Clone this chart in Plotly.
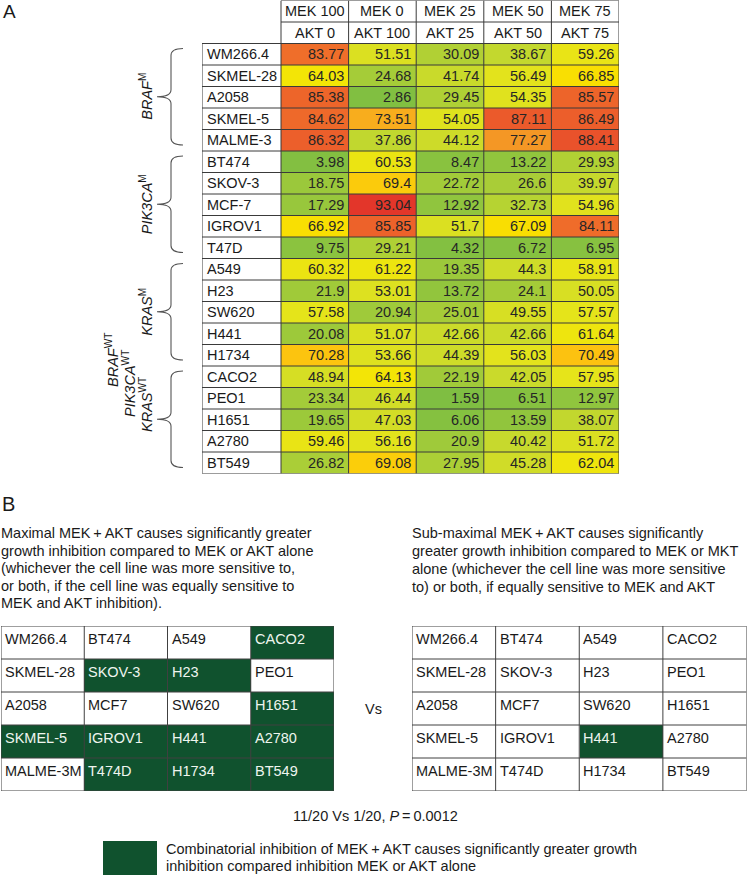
import plotly.graph_objects as go

W, H = 747, 875
FONT = "Liberation Sans, Arial, Helvetica, sans-serif"
GREEN = "#10522e"
LINE = "#3a3a3a"
FS = 14.5

# ---------------- Panel A data ----------------
cell_lines = ["WM266.4", "SKMEL-28", "A2058", "SKMEL-5", "MALME-3",
              "BT474", "SKOV-3", "MCF-7", "IGROV1", "T47D",
              "A549", "H23", "SW620", "H441", "H1734",
              "CACO2", "PEO1", "H1651", "A2780", "BT549"]
mek_labels = ["MEK 100", "MEK 0", "MEK 25", "MEK 50", "MEK 75"]
akt_labels = ["AKT 0", "AKT 100", "AKT 25", "AKT 50", "AKT 75"]
mek100_akt0 = [83.77, 64.03, 85.38, 84.62, 86.32, 3.98, 18.75, 17.29, 66.92, 9.75,
               60.32, 21.9, 57.58, 20.08, 70.28, 48.94, 23.34, 19.65, 59.46, 26.82]
mek0_akt100 = [51.51, 24.68, 2.86, 73.51, 37.86, 60.53, 69.4, 93.04, 85.85, 29.21,
               61.22, 53.01, 20.94, 51.07, 53.66, 64.13, 46.44, 47.03, 56.16, 69.08]
mek25_akt25 = [30.09, 41.74, 29.45, 54.05, 44.12, 8.47, 22.72, 12.92, 51.7, 4.32,
               19.35, 13.72, 25.01, 42.66, 44.39, 22.19, 1.59, 6.06, 20.9, 27.95]
mek50_akt50 = [38.67, 56.49, 54.35, 87.11, 77.27, 13.22, 26.6, 32.73, 67.09, 6.72,
               44.3, 24.1, 49.55, 42.66, 56.03, 42.05, 6.51, 13.59, 40.42, 45.28]
mek75_akt75 = [59.26, 66.85, 85.57, 86.49, 88.41, 29.93, 39.97, 54.96, 84.11, 6.95,
               58.91, 50.05, 57.57, 61.64, 70.49, 57.95, 12.97, 38.07, 51.72, 62.04]
mutation_groups = [("<i>BRAF</i><sup>M</sup>", 0, 4),
                   ("<i>PIK3CA</i><sup>M</sup>", 5, 9),
                   ("<i>KRAS</i><sup>M</sup>", 10, 14)]
wt_labels = ["<i>BRAF</i><sup>WT</sup>", "<i>PIK3CA</i><sup>WT</sup>", "<i>KRAS</i><sup>WT</sup>"]
wt_rows = (15, 19)

# ---------------- Panel B data ----------------
grid_columns = [["WM266.4", "SKMEL-28", "A2058", "SKMEL-5", "MALME-3M"],
                ["BT474", "SKOV-3", "MCF7", "IGROV1", "T474D"],
                ["A549", "H23", "SW620", "H441", "H1734"],
                ["CACO2", "PEO1", "H1651", "A2780", "BT549"]]
maximal_sig = ["CACO2", "SKOV-3", "H23", "H1651", "SKMEL-5", "IGROV1",
               "H441", "A2780", "T474D", "H1734", "BT549"]
submaximal_sig = ["H441"]

left_text = ["Maximal MEK\u2009+\u2009AKT causes significantly greater",
             "growth inhibition compared to MEK or AKT alone",
             "(whichever the cell line was more sensitive to,",
             "or both, if the cell line was equally sensitive to",
             "MEK and AKT inhibition)."]
right_text = ["Sub-maximal MEK\u2009+\u2009AKT causes significantly",
              "greater growth inhibition compared to MEK or MKT",
              "alone (whichever the cell line was more sensitive",
              "to) or both, if equally sensitive to MEK and AKT"]
stat_text = "11/20 Vs 1/20, <i>P</i>\u2009=\u20090.0012"
legend_text = ["Combinatorial inhibition of MEK\u2009+\u2009AKT causes significantly greater growth",
               "inhibition compared inhibition MEK or AKT alone"]


def px(x):
    return x / W


def py(y):
    return 1 - y / H


columns = [mek100_akt0, mek0_akt100, mek25_akt25, mek50_akt50, mek75_akt75]
z = [[columns[j][i] for j in range(len(columns))] for i in range(len(cell_lines))]

color_stops = [(0, "#7dbd42"), (10, "#8bc33f"), (25, "#a6cc38"), (40, "#c6d92d"),
               (50, "#d8df23"), (58, "#e6e41a"), (64, "#f3e506"), (67, "#f9df02"),
               (70, "#fcc60e"), (74, "#f8a91f"), (78, "#f39326"), (84, "#ef6d2a"),
               (88, "#ea552b"), (93, "#e3362a"), (100, "#df2a2a")]
colorscale = [[v / 100, c] for v, c in color_stops]

fig = go.Figure()

nrow = len(cell_lines)
ncol = len(mek_labels)
# pixel geometry of panel A
A_left, A_data_left, A_right = 202, 281, 619
A_top, A_bottom = 0.5, 473.5
colw = (A_right - A_data_left) / ncol
lab_w = (A_data_left - A_left) / colw
rowh = (A_bottom - A_top) / (nrow + 2)
x_lab = -0.5 - lab_w

fig.add_trace(go.Heatmap(z=z, x=list(range(ncol)), y=list(range(nrow)),
                         colorscale=colorscale, zmin=0, zmax=100, showscale=False,
                         hoverinfo="skip", xaxis="x", yaxis="y"))


def grid_z(sig):
    return [[1 if grid_columns[c][r] in sig else 0 for c in range(len(grid_columns))]
            for r in range(len(grid_columns[0]))]


gscale = [[0, "white"], [1, GREEN]]
fig.add_trace(go.Heatmap(z=grid_z(maximal_sig), colorscale=gscale, zmin=0, zmax=1,
                         showscale=False, hoverinfo="skip", xaxis="x2", yaxis="y2"))
fig.add_trace(go.Heatmap(z=grid_z(submaximal_sig), colorscale=gscale, zmin=0, zmax=1,
                         showscale=False, hoverinfo="skip", xaxis="x3", yaxis="y3"))

shapes = []
ann = []


def seg(x0, y0, x1, y1, ax="", color=LINE, w=1):
    shapes.append(dict(type="line", xref="x" + ax, yref="y" + ax, x0=x0, y0=y0, x1=x1, y1=y1,
                       line=dict(color=color, width=w), layer="above"))


for k in range(3):
    seg(-0.5, -2.5 + k, ncol - 0.5, -2.5 + k)
for k in range(1, nrow + 1):
    seg(x_lab, -0.5 + k, ncol - 0.5, -0.5 + k)
seg(x_lab, -0.5, ncol - 0.5, -0.5)
seg(x_lab, -0.5, x_lab, nrow - 0.5)
for k in range(ncol + 1):
    seg(-0.5 + k, -2.5, -0.5 + k, nrow - 0.5)


def txt(**kw):
    size = kw.pop("size", FS)
    color = kw.pop("color", "#1a1a1a")
    d = dict(showarrow=False, font=dict(size=size, color=color, family=FONT))
    d.update(kw)
    ann.append(d)


for i in range(nrow):
    txt(xref="x", yref="y", x=x_lab, y=i, text=cell_lines[i], xanchor="left",
        yanchor="middle", xshift=3)
    for j in range(ncol):
        txt(xref="x", yref="y", x=j + 0.5, y=i, text=f"{columns[j][i]:g}",
            xanchor="right", yanchor="middle", xshift=-3, color="#262626")
for j in range(ncol):
    txt(xref="x", yref="y", x=j, y=-2, text=mek_labels[j], xanchor="center", yanchor="middle")
    txt(xref="x", yref="y", x=j, y=-1, text=akt_labels[j], xanchor="center", yanchor="middle")


def row_top_px(r):
    return A_top + (r + 2) * rowh


def brace(r0, r1):
    t = row_top_px(r0) + 5
    b = row_top_px(r1 + 1) - 6
    m = (t + b) / 2
    sx, hx, tx, rr = 171, 183, 157, 7
    p = (f"M {px(hx)},{py(t)} Q {px(sx)},{py(t)} {px(sx)},{py(t + rr)} "
         f"L {px(sx)},{py(m - rr)} Q {px(sx)},{py(m)} {px(tx)},{py(m)} "
         f"Q {px(sx)},{py(m)} {px(sx)},{py(m + rr)} "
         f"L {px(sx)},{py(b - rr)} Q {px(sx)},{py(b)} {px(hx)},{py(b)}")
    shapes.append(dict(type="path", xref="paper", yref="paper", path=p,
                       line=dict(color="#555555", width=1.1)))
    return m


for label, r0, r1 in mutation_groups:
    m = brace(r0, r1)
    txt(xref="paper", yref="paper", x=px(146), y=py(m), text=label, textangle=-90,
        xanchor="center", yanchor="middle")

brace(*wt_rows)
wt_x = [112, 129, 146]
wt_y = [360, 384, 405]
for k, lab in enumerate(wt_labels):
    txt(xref="paper", yref="paper", x=px(wt_x[k]), y=py(wt_y[k]), text=lab, textangle=-90,
        xanchor="center", yanchor="middle")

for ax, sig in (("2", maximal_sig), ("3", submaximal_sig)):
    nc, nr = len(grid_columns), len(grid_columns[0])
    for k in range(nr + 1):
        seg(-0.5, -0.5 + k, nc - 0.5, -0.5 + k, ax=ax, color="#404040")
    for k in range(nc + 1):
        seg(-0.5 + k, -0.5, -0.5 + k, nr - 0.5, ax=ax, color="#404040")
    for c in range(nc):
        for r in range(nr):
            name = grid_columns[c][r]
            txt(xref="x" + ax, yref="y" + ax, x=c - 0.5, y=r - 0.12, text=name,
                xanchor="left", yanchor="middle", xshift=2,
                color="#eef5ee" if name in sig else "#1a1a1a")

txt(xref="paper", yref="paper", x=px(1), y=py(12), text="A", xanchor="left",
    yanchor="middle", size=19)
txt(xref="paper", yref="paper", x=px(0), y=py(504), text="B", xanchor="left",
    yanchor="middle", size=20)
for k, line in enumerate(left_text):
    txt(xref="paper", yref="paper", x=px(-1), y=py(533 + 17.6 * k), text=line,
        xanchor="left", yanchor="middle")
for k, line in enumerate(right_text):
    txt(xref="paper", yref="paper", x=px(410), y=py(533 + 18 * k), text=line,
        xanchor="left", yanchor="middle")
txt(xref="paper", yref="paper", x=px(373), y=py(709), text="Vs", xanchor="center",
    yanchor="middle")
txt(xref="paper", yref="paper", x=px(375), y=py(816), text=stat_text, xanchor="center",
    yanchor="middle")
shapes.append(dict(type="rect", xref="paper", yref="paper", x0=px(103), x1=px(157),
                   y0=py(875), y1=py(841), fillcolor=GREEN, line=dict(width=0)))
for k, line in enumerate(legend_text):
    txt(xref="paper", yref="paper", x=px(164), y=py(849 + 17 * k), text=line,
        xanchor="left", yanchor="middle")

noax = dict(visible=False, showgrid=False, zeroline=False, fixedrange=True)
fig.update_layout(
    width=W, height=H, margin=dict(l=0, r=0, t=0, b=0),
    paper_bgcolor="white", plot_bgcolor="white", showlegend=False,
    xaxis=dict(noax, domain=[px(A_left), px(A_right)], range=[x_lab, ncol - 0.5]),
    yaxis=dict(noax, domain=[py(A_bottom), py(A_top)], range=[nrow - 0.5, -2.5]),
    xaxis2=dict(noax, domain=[px(1), px(334)], range=[-0.5, 3.5], anchor="y2"),
    yaxis2=dict(noax, domain=[py(791), py(626)], range=[4.5, -0.5], anchor="x2"),
    xaxis3=dict(noax, domain=[px(412), px(746.5)], range=[-0.5, 3.5], anchor="y3"),
    yaxis3=dict(noax, domain=[py(791), py(626)], range=[4.5, -0.5], anchor="x3"),
    shapes=shapes, annotations=ann,
)
fig.write_html("out.html", config={"displayModeBar": False},
               post_script="document.body.style.margin='0px';document.body.style.overflow='hidden';")
